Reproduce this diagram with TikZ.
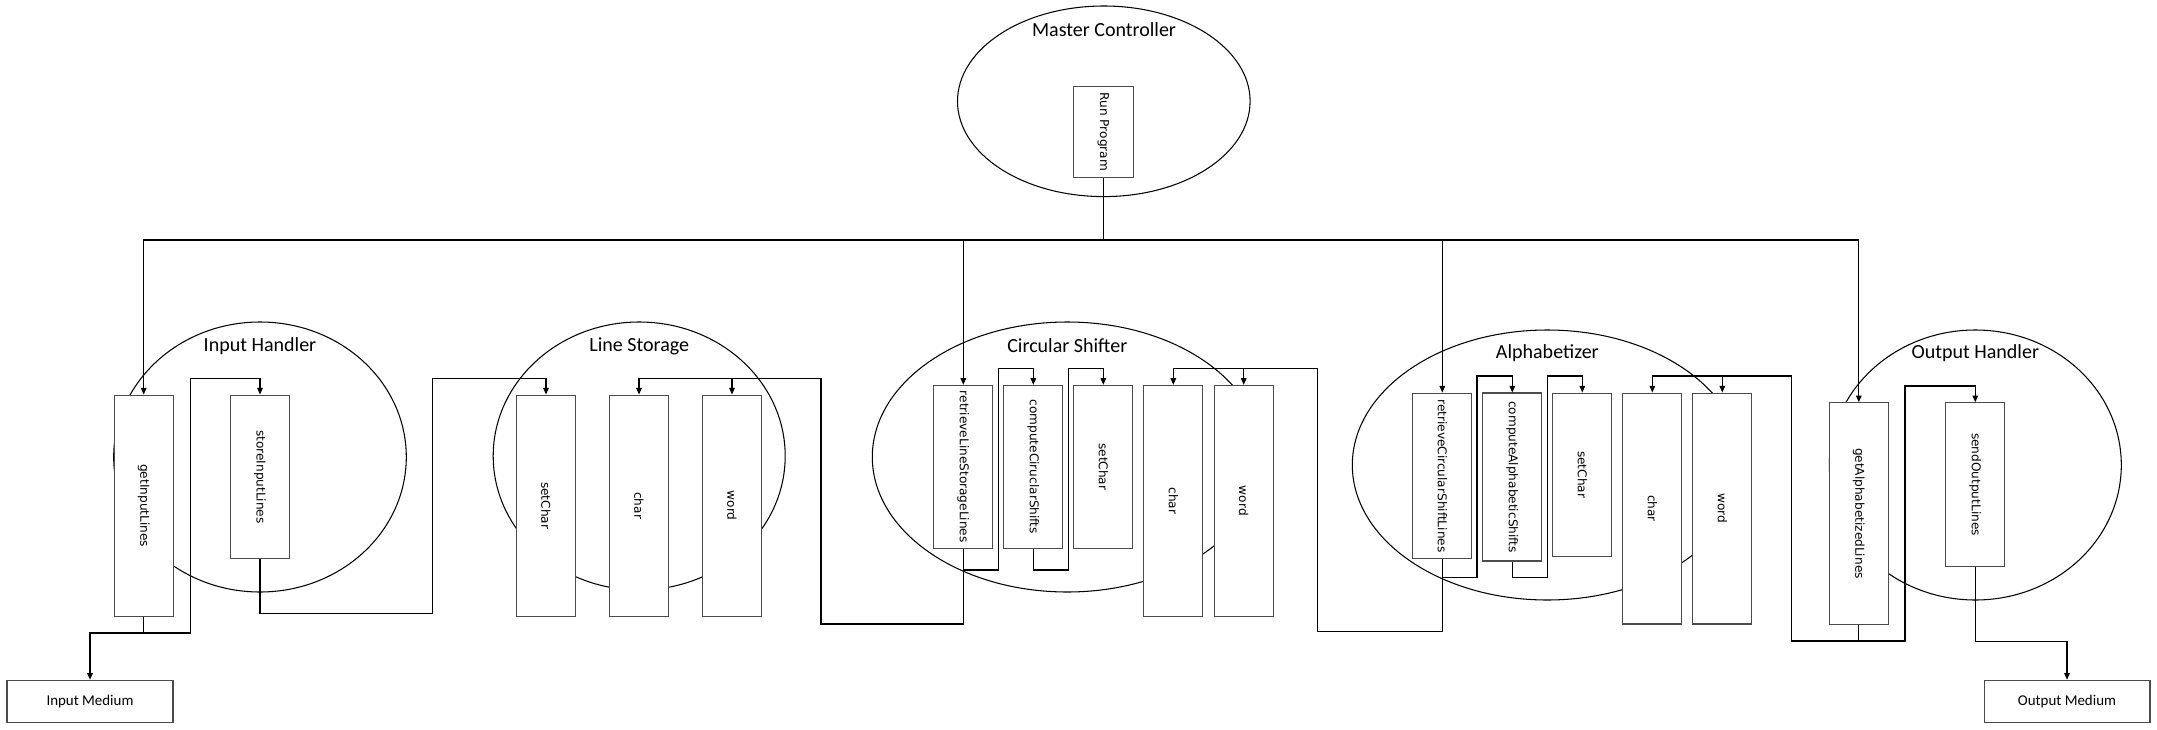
\documentclass[tikz,border=0pt]{standalone}
\usepackage{graphicx}
\usepackage{fontspec}
\newfontfamily\boxfont{DejaVu Sans}
\newfontfamily\blobfont{Carlito}
\usetikzlibrary{arrows.meta}

\begin{document}
\begin{tikzpicture}[x=0.02cm,y=-0.02cm,line width=0.6pt,
        box/.style={draw=black!70,fill=white,inner sep=0pt,minimum width=1.18cm,font=\boxfont\fontsize{6.9}{8}\selectfont},
        medium/.style={draw=black!70,fill=white,inner sep=0pt,minimum width=3.32cm,minimum height=0.85cm,font=\blobfont\fontsize{8.5}{10}\selectfont},
        title/.style={inner sep=0pt,font=\blobfont\fontsize{11.4}{13}\selectfont},
        feed/.style={-{Triangle[length=3.8pt,width=3.2pt]}}]
        \useasboundingbox (0,0) rectangle (2157,730);

        \draw (1103.8,101.3) ellipse (146.3 and 95.3);
        \draw (260,457) ellipse (146.3 and 135);
        \draw (639.2,456) ellipse (146 and 134);
        \draw (1067.3,457) ellipse (195 and 135);
        \draw (1547.3,465) ellipse (195 and 135);
        \draw (1975.3,465) ellipse (146 and 135);

        \node[title] (mc) at (1104,30) {Master Controller};
        \node[title] (ih) at (260,346) {Input Handler};
        \node[title] (ls) at (639.3,346) {Line Storage};
        \node[title] (cs) at (1067.3,346) {Circular Shifter};
        \node[title] (al) at (1547.3,352.7) {Alphabetizer};
        \node[title] (oh) at (1975.3,352.7) {Output Handler};

        \node[box,minimum width=1.2cm,minimum height=1.834cm] (run) at (1103.3,131.9) {\rotatebox{-90}{Run Program}};

        \node[box,minimum height=4.426cm] (getin) at (143.7,505.7) {\rotatebox{-90}{getInputLines}};
        \node[box,minimum height=3.274cm] (storein) at (260,476.9) {\rotatebox{-90}{storeInputLines}};

        \node[box,minimum height=4.426cm] (lsset) at (546,505.7) {\rotatebox{-90}{setChar}};
        \node[box,minimum height=4.426cm] (lschar) at (639,505.7) {\rotatebox{-90}{char}};
        \node[box,minimum height=4.426cm] (lsword) at (732,505.7) {\rotatebox{-90}{word}};

        \node[box,minimum height=3.26cm] (getls) at (963.3,466.8) {\rotatebox{-90}{retrieveLineStorageLines}};
        \node[box,minimum height=3.26cm] (shift) at (1033.3,466.8) {\rotatebox{-90}{computeCiruclarShifts}};
        \node[box,minimum height=3.26cm] (csset) at (1103.3,466.8) {\rotatebox{-90}{setChar}};
        \node[box,minimum height=4.62cm] (cschar) at (1173.3,500.8) {\rotatebox{-90}{char}};
        \node[box,minimum height=4.62cm] (csword) at (1243.7,500.8) {\rotatebox{-90}{word}};

        \node[box,minimum height=3.314cm] (getcs) at (1442.3,475.9) {\rotatebox{-90}{retrieveCircularShiftLines}};
        \node[box,minimum height=3.36cm] (sort) at (1512.3,477) {\rotatebox{-90}{computeAlphabeticShifts}};
        \node[box,minimum height=3.266cm] (alset) at (1582.3,474.7) {\rotatebox{-90}{setChar}};
        \node[box,minimum height=4.62cm] (alchar) at (1652.3,508.5) {\rotatebox{-90}{char}};
        \node[box,minimum height=4.62cm] (alword) at (1722.3,508.5) {\rotatebox{-90}{word}};

        \node[box,minimum height=4.426cm] (getal) at (1858.8,513.4) {\rotatebox{-90}{getAlphabetizedLines}};
        \node[box,minimum height=3.272cm] (sendout) at (1975.3,484.5) {\rotatebox{-90}{sendOutputLines}};

        \node[medium] (inmed) at (90,701.5) {Input Medium};
        \node[medium] (outmed) at (2067,701.5) {Output Medium};

        \coordinate (bus) at (1103.3,240);
        \draw (run.south) -- (bus);
        \draw[feed] (bus) -| (getin.north);
        \draw[feed] (bus) -| (getls.north);
        \draw[feed] (bus) -| (getcs.north);
        \draw[feed] (bus) -| (getal.north);

        \coordinate (injoin) at (143.7,633);
        \draw (getin.south) -- (injoin);
        \draw[feed] (injoin) -| (inmed.north);
        \draw[feed] (injoin) -| (190.3,378.3) -| (storein.north);
        \draw[feed] (storein.south) |- (432.3,613.7) -- (432.3,378.3) -| (lsset.north);

        \coordinate (lstop) at (821,378.3);
        \draw[feed] (getls.south) |- (821,624) -- (lstop) -| (lschar.north);
        \draw[feed] (lstop) -| (lsword.north);
        \draw[feed] (getls.south) |- (998.3,570) -- (998.3,368.3) -| (shift.north);
        \draw[feed] (shift.south) |- (1068.3,570) -- (1068.3,368.3) -| (csset.north);

        \coordinate (cstop) at (1317.3,368.3);
        \draw[feed] (getcs.south) |- (1317.3,631.7) -- (cstop) -| (cschar.north);
        \draw[feed] (cstop) -| (csword.north);
        \draw[feed] (getcs.south) |- (1477,577.7) -- (1477,376) -| (sort.north);
        \draw[feed] (sort.south) |- (1547.3,577.7) -- (1547.3,376) -| (alset.north);

        \coordinate (outjoin) at (1858.8,641);
        \coordinate (altop) at (1791.7,376);
        \draw (getal.south) -- (outjoin);
        \draw[feed] (outjoin) -- (1791.7,641) -- (altop) -| (alchar.north);
        \draw[feed] (altop) -| (alword.north);
        \draw[feed] (outjoin) -| (1905,386) -| (sendout.north);
        \draw[feed] (sendout.south) |- (2067,641.7) -- (outmed.north);

    \end{tikzpicture}
\end{document}
